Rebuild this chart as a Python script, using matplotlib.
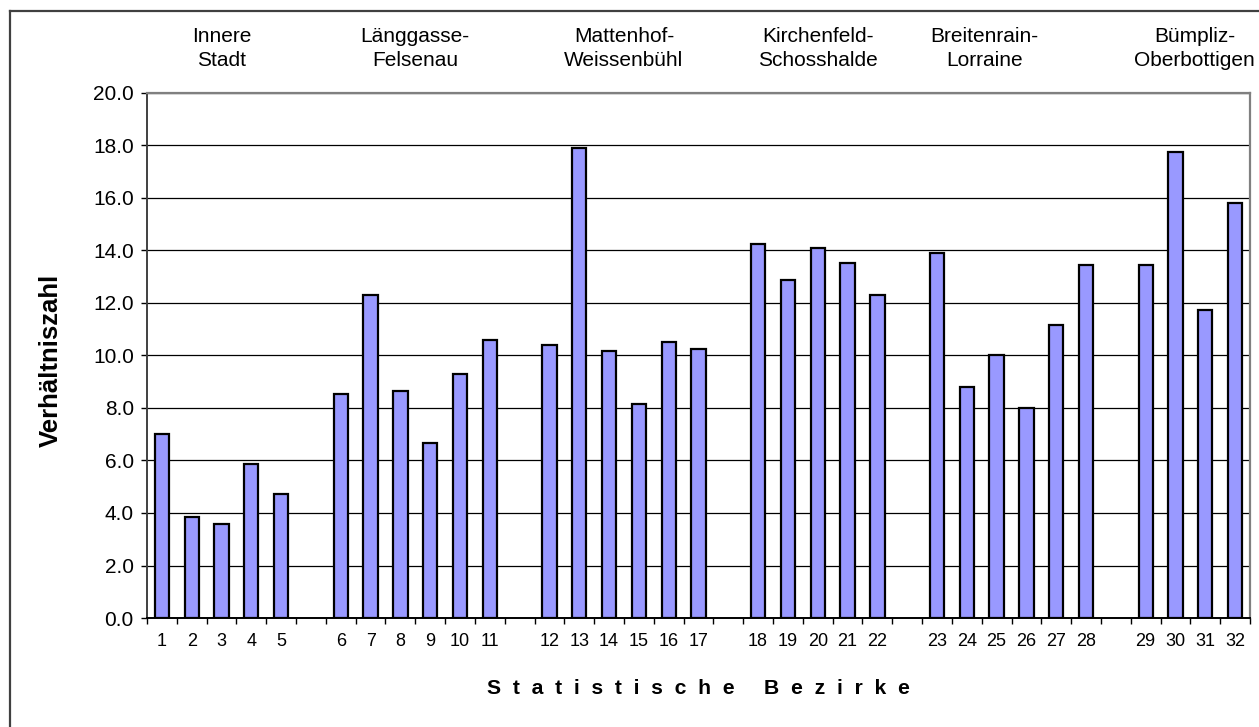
import matplotlib
matplotlib.use("Agg")
import matplotlib.pyplot as plt
import matplotlib.transforms as mtransforms
from matplotlib.lines import Line2D
from matplotlib.ticker import FixedLocator, NullFormatter, FixedFormatter

plt.rcParams['font.family'] = ['Liberation Sans', 'DejaVu Sans']

# ---- data ----
districts = [str(i) for i in range(1, 33)]
values = [7.00, 3.86, 3.60, 5.87, 4.73,
          8.55, 12.30, 8.63, 6.68, 9.29, 10.59,
          10.41, 17.91, 10.19, 8.15, 10.51, 10.26,
          14.24, 12.87, 14.08, 13.52, 12.30,
          13.91, 8.81, 10.01, 7.99, 11.16, 13.43,
          13.43, 17.74, 11.74, 15.80]
group_names = ["Innere\nStadt", "Länggasse-\nFelsenau", "Mattenhof-\nWeissenbühl",
               "Kirchenfeld-\nSchosshalde", "Breitenrain-\nLorraine", "Bümpliz-\nOberbottigen"]
group_sizes = [5, 6, 6, 5, 6, 4]
y_ticks = [0, 2, 4, 6, 8, 10, 12, 14, 16, 18, 20]
x_title = "Statistische Bezirke"
y_title = "Verhältniszahl"

# ---- positions (one empty slot between groups) ----
positions = []
group_centers = []
slot = 0
for n in group_sizes:
    grp = []
    for _ in range(n):
        positions.append(slot)
        grp.append(slot)
        slot += 1
    group_centers.append(sum(grp) / len(grp))
    slot += 1
n_slots = slot - 1
# small manual nudges of the group caption boxes (in slot units)
label_shift = [0.0, 0.0, 0.0, 0.0, -0.9, 0.15]

W, H = 1259, 727
fig = plt.figure(figsize=(W / 100, H / 100), dpi=100)
ax = fig.add_axes([147 / W, 1 - 618 / H, (1250 - 147) / W, (618 - 93) / H])

ax.bar(positions, values, width=0.48, color='#9999FF', edgecolor='black',
       linewidth=1.6, zorder=3)

ax.set_xlim(-0.5, n_slots - 0.5)
ax.set_ylim(0, 20)

# y axis
ax.set_yticks(y_ticks)
ax.set_yticklabels([f"{v:.1f}" for v in y_ticks], fontsize=15)
ax.tick_params(axis='y', direction='out', length=4.5, width=1, pad=5, colors='black')
ax.grid(axis='y', color='black', linewidth=0.9, zorder=1)

# x axis: ticks at slot boundaries, labels at bars
ax.xaxis.set_major_locator(FixedLocator([b - 0.5 for b in range(n_slots + 1)]))
ax.xaxis.set_major_formatter(NullFormatter())
ax.xaxis.set_minor_locator(FixedLocator(positions))
ax.xaxis.set_minor_formatter(FixedFormatter(districts))
ax.tick_params(axis='x', which='major', direction='out', length=4.5, width=1, color='black')
ax.tick_params(axis='x', which='minor', length=0, pad=11, labelsize=13)

for s in ['top', 'right']:
    ax.spines[s].set_color('#808080')
    ax.spines[s].set_linewidth(1.6)
ax.spines['left'].set_color('#404040')
ax.spines['left'].set_linewidth(1.4)
ax.spines['bottom'].set_color('black')
ax.spines['bottom'].set_linewidth(1.4)
ax.set_axisbelow(True)

# group labels above the plot
trans = mtransforms.blended_transform_factory(ax.transData, fig.transFigure)
for name, c, d in zip(group_names, group_centers, label_shift):
    ax.text(c + d, 1 - 48.5 / H, name, transform=trans, ha='center', va='center',
            fontsize=15, linespacing=1.3, clip_on=False)

# axis titles (letter-spaced x title)
spaced = "     ".join("  ".join(word) for word in x_title.split(" "))
fig.text((147 + 1250) / 2 / W, 1 - 689 / H, spaced,
         ha='center', va='center', fontsize=15.2, fontweight='bold')
fig.text(51 / W, 1 - 360 / H, y_title, rotation=90, ha='center', va='center',
         fontsize=18.5, fontweight='bold')

# outer chart frame (top and left edges visible)
fig.add_artist(Line2D([10 / W, 1.0], [1 - 11 / H, 1 - 11 / H], transform=fig.transFigure,
                      color='#404040', linewidth=1.6))
fig.add_artist(Line2D([10 / W, 10 / W], [1 - 11 / H, 0.0], transform=fig.transFigure,
                      color='#404040', linewidth=1.6))

fig.savefig("out.png", dpi=100)
